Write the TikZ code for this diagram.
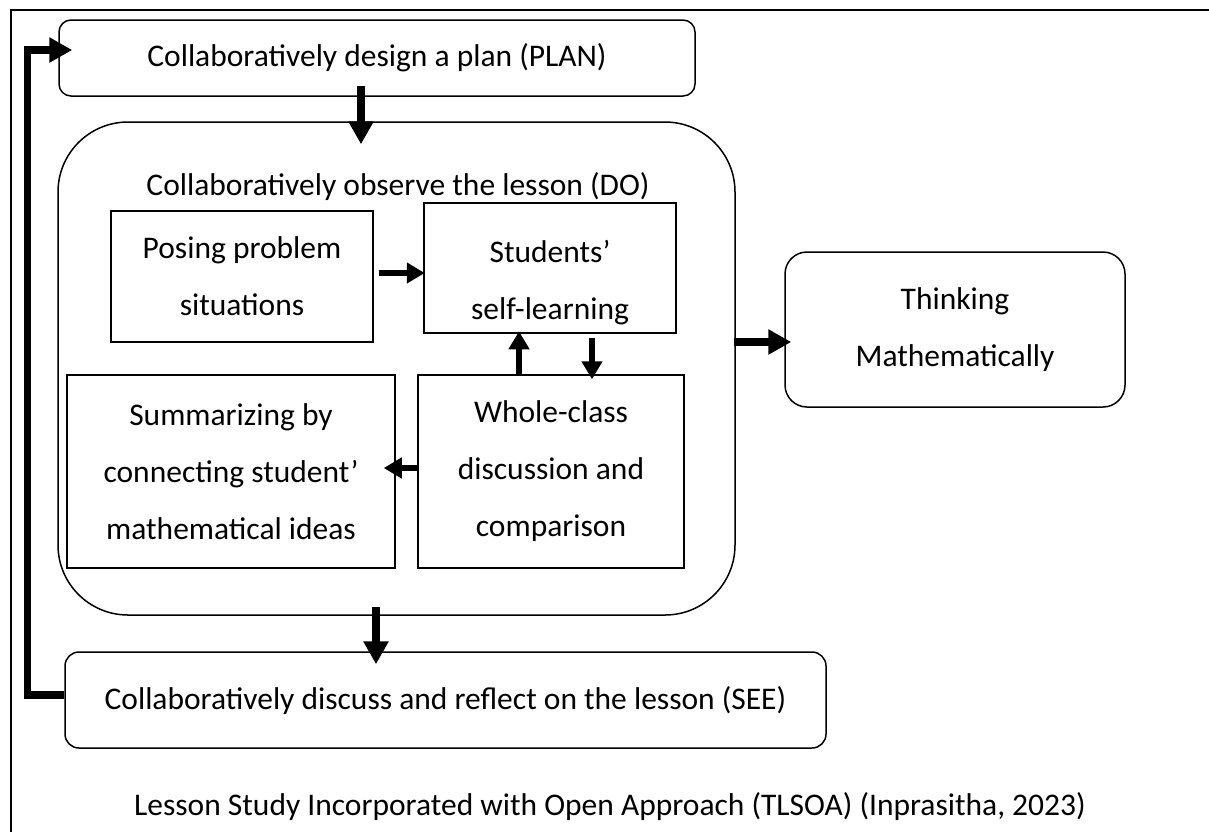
\documentclass[tikz,border=0pt]{standalone}
\usepackage{fontspec}
\setmainfont{Carlito}
\usepackage{tikz}
\usetikzlibrary{arrows.meta,positioning,calc}

\begin{document}
\begin{tikzpicture}[
  x=0.5pt, y=-0.5pt,
  font=\fontsize{15.75}{28.5}\selectfont,
  box/.style={draw,line width=0.75pt,inner sep=0pt,align=center},
  roundbox/.style={box,rounded corners=#1},
  roundbox/.default=6pt,
  arrow/.style={-{Triangle[width=10pt,length=9pt]},line width=3pt},
  bigarrow/.style={-{Triangle[width=12pt,length=11.5pt]},line width=3.75pt}
]
  \useasboundingbox (0,0) rectangle (1209,832);
  \draw[line width=1pt] (1209,10) -- (11,10) -- (11,832);

  \node[roundbox, minimum width=318pt, minimum height=38pt] (plan) at (377,58) {Collaboratively design a plan (PLAN)};
  \node[roundbox=35pt, minimum width=338.5pt, minimum height=246.5pt] (do) at (396.5,368.5) {};
  \node (dotitle) at (398,187) {Collaboratively observe the lesson (DO)};

  \node[box, minimum width=131pt, minimum height=65.5pt] (posing) at (242,276.5) {Posing problem\\situations};
  \node[box, line width=1.25pt, minimum width=126pt, minimum height=65pt] (students) at (550,268) {\rule{0pt}{26pt}Students’\\self-learning};
  \node[box, minimum width=164pt, minimum height=96.5pt] (summ) at (231,471.5) {Summarizing by\\connecting student’\\mathematical ideas};
  \node[box, minimum width=133pt, minimum height=96.5pt] (whole) at (551,471.5) {Whole-class\\discussion and\\comparison};

  \node[roundbox=11pt, minimum width=170pt, minimum height=77.5pt] (think) at (955,329.5) {Thinking\\Mathematically};
  \node[roundbox=7pt, minimum width=380.5pt, minimum height=48pt] (see) at (445.5,700) {Collaboratively discuss and reflect on the lesson (SEE)};
  \node (caption) at (610,806) {Lesson Study Incorporated with Open Approach (TLSOA) (Inprasitha, 2023)};

  \draw[bigarrow] ($(plan.south)+(-16,-11)$) -- ($(do.north)+(-35.5,23)$);
  \draw[arrow] ($(posing.east)+(5,-3.5)$) -- ($(students.west)+(2,5)$);
  \draw[arrow] ($(whole.north)+(-32,0)$) -- ($(students.south)+(-31,-3)$);
  \draw[arrow] ($(students.south)+(42,4)$) -- ($(whole.north)+(41,5)$);
  \draw[arrow] ($(whole.west)+(0,-3.5)$) -- ($(summ.east)+(-12,-3.5)$);
  \draw[bigarrow] ($(do.east)+(-2,-26.5)$) -- ($(think.west)+(7,12.5)$);
  \draw[bigarrow] ($(do.south)+(-20.5,-9)$) -- ($(see.north)+(-69.5,13)$);
  \draw[bigarrow] ($(see.west)+(0,-5)$) -- ++(-37,0) |- ($(plan.west)+(14,-8)$);
\end{tikzpicture}
\end{document}
